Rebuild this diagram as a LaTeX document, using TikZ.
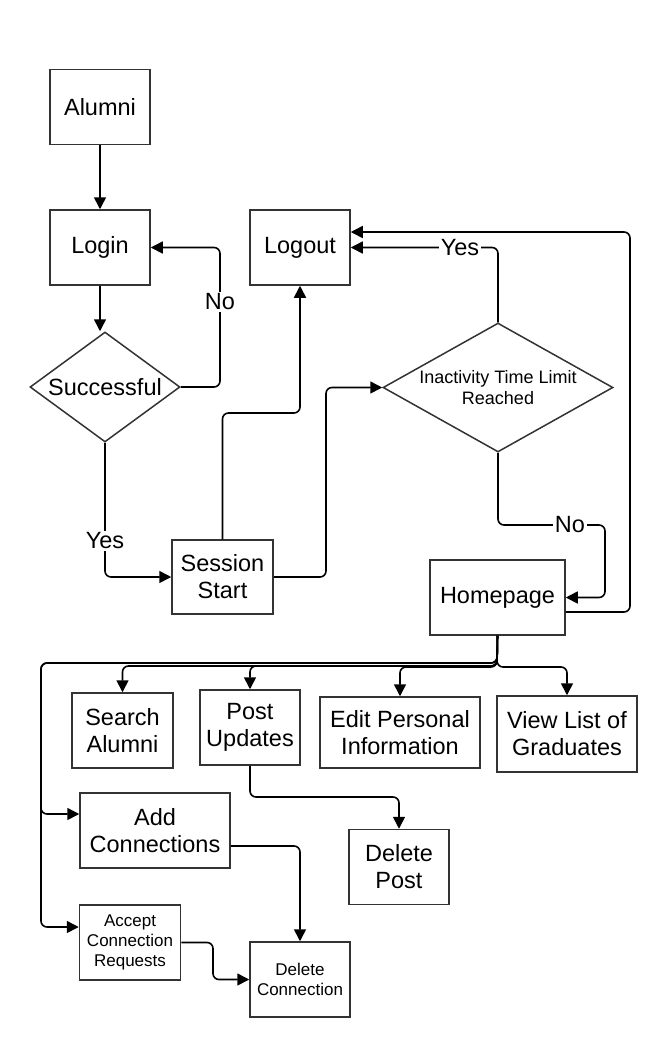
\documentclass[tikz,border=0pt]{standalone}
\usepackage{fontspec}
\setmainfont{Liberation Sans}
\usetikzlibrary{arrows.meta,shapes.geometric}
\definecolor{boxline}{HTML}{333333}
\tikzset{
  box/.style={draw=boxline, line width=1.5pt, fill=white, inner sep=0pt, align=center,
    font=\fontsize{23.5}{27}\selectfont},
  dia/.style={draw=boxline, line width=1.5pt, fill=white, diamond, inner sep=0pt},
  conn/.style={draw=black, line width=1.6pt, rounded corners=6pt,
    -{Triangle[length=12pt,width=12pt]}},
  lbl/.style={fill=white, inner sep=2pt, font=\fontsize{23.5}{27}\selectfont},
  main/.style={font=\fontsize{23.5}{27}\selectfont, align=center},
}
\begin{document}
\begin{tikzpicture}[x=1pt,y=-1pt]
\useasboundingbox (0,0) rectangle (657,1037);
% nodes
\node[box, minimum width=100pt, minimum height=75pt] (alumni) at (100,107) {Alumni};
\node[box, minimum width=100pt, minimum height=75pt] (login) at (100,247.5) {Login};
\node[box, minimum width=100pt, minimum height=75pt] (logout) at (300,247.5) {Logout};
\node[dia, minimum width=150pt, minimum height=110pt] (succ) at (105,387) {};
\node[main] (succT) at (succ) {Successful};
\node[box, minimum width=101pt, minimum height=74pt] (session) at (222.5,577) {Session\\Start};
\node[dia, minimum width=230pt, minimum height=129pt] (inact) at (498,387.5) {};
\node[align=center, font=\fontsize{18}{21}\selectfont] (inactT) at (inact) {Inactivity Time Limit\\Reached};
\node[box, minimum width=135pt, minimum height=75pt] (hp) at (497.5,597.5) {Homepage};
\node[box, minimum width=101pt, minimum height=75pt] (search) at (122.5,730.5) {Search\\Alumni};
\node[box, minimum width=100pt, minimum height=75pt] (post) at (250,727.5) {Post\\Updates};
\node[box, minimum width=160pt, minimum height=71pt] (edit) at (400,732.5) {Edit Personal\\Information};
\node[box, minimum width=140pt, minimum height=76pt] (view) at (567,734) {View List of\\Graduates};
\node[box, minimum width=150pt, minimum height=75pt] (add) at (155,830.5) {Add\\Connections};
\node[box, minimum width=100pt, minimum height=75pt] (delpost) at (399,867) {Delete\\Post};
\node[box, minimum width=101pt, minimum height=75pt, font=\fontsize{17}{20}\selectfont] (accept) at (130,942.5) {Accept\\Connection\\Requests};
\node[box, minimum width=100pt, minimum height=75pt, font=\fontsize{17}{20}\selectfont] (delconn) at (300,979.5) {Delete\\Connection};
% connectors
\draw[conn] (alumni.south) -- (login.north);
\draw[conn] (login.south) -- (login.south |- succ.north);
\draw[conn] (succ.east) -- (220,387) |- (login.east);
\node[lbl] (noA) at (220,302) {No};
\draw[conn] (succ.south) |- (session.west);
\node[lbl] (yesA) at (105,541) {Yes};
\draw[conn] (session.north) -- (222.5,413) -| (logout.south);
\draw[conn] (session.east) -- (326,577) |- (inact.west);
\draw[conn] (inact.north) |- (logout.east);
\node[lbl] (yesB) at (460,247.5) {Yes};
\draw[conn] ([yshift=-14.5pt]hp.east) -- (630,612) |- ([yshift=15.5pt]logout.east);
\draw[conn] (inact.south) -- (498,525) -- (605,525) |- (hp.east);
\node[lbl] (noB) at (570,525) {No};
\draw[conn] (hp.south) -- (497,663) -- (41,663) -- (41,814) -- ([yshift=16.5pt]add.west);
\draw[conn] (hp.south) -- (497,663) -- (41,663) -- (41,927) -- ([yshift=15.5pt]accept.west);
\draw[conn] (hp.south) -- (497,666) -| (search.north);
\draw[conn] (hp.south) -- (497,666) -| (post.north);
\draw[conn] (hp.south) -- (497,667) -| (edit.north);
\draw[conn] (hp.south) -- (497,667) -| (view.north);
\draw[conn] (post.south) -- (250,797) -| (delpost.north);
\draw[conn] ([yshift=-15.5pt]add.east) -| (delconn.north);
\draw[conn] (accept.east) -- (213,942.5) |- (delconn.west);
\end{tikzpicture}
\end{document}
